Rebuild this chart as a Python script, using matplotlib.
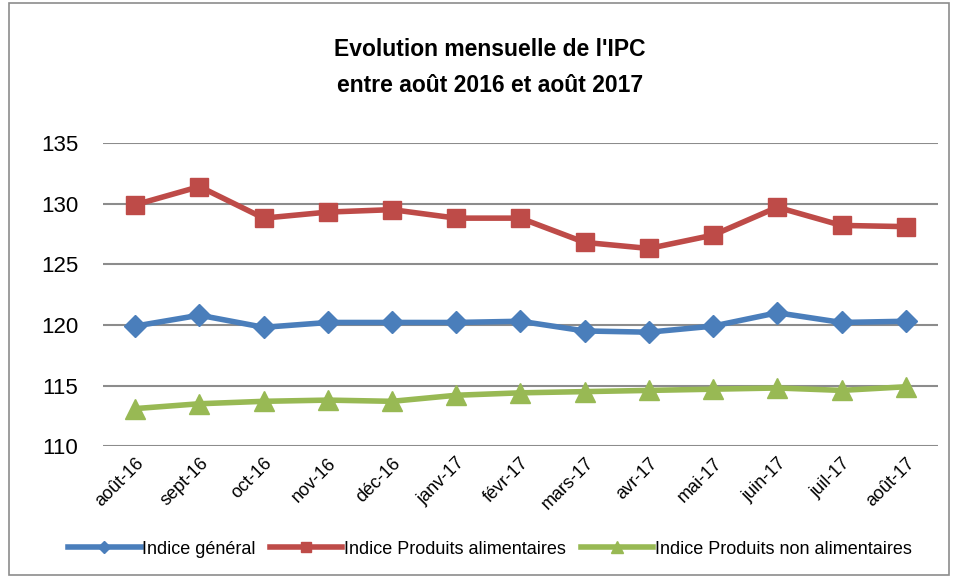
import matplotlib.pyplot as plt
from matplotlib.patches import Rectangle

# Months shown on the category axis
months = ['août-16', 'sept-16', 'oct-16', 'nov-16', 'déc-16', 'janv-17', 'févr-17',
          'mars-17', 'avr-17', 'mai-17', 'juin-17', 'juil-17', 'août-17']

# Index values
indice_general = [119.9, 120.8, 119.8, 120.2, 120.2, 120.2, 120.3,
                  119.5, 119.4, 119.9, 121.0, 120.2, 120.3]
produits_alim = [129.9, 131.4, 128.8, 129.3, 129.5, 128.8, 128.8,
                 126.8, 126.3, 127.4, 129.7, 128.2, 128.1]
produits_non_alim = [113.1, 113.5, 113.7, 113.8, 113.7, 114.2, 114.4,
                     114.5, 114.6, 114.7, 114.8, 114.6, 114.9]

y_ticks = [110, 115, 120, 125, 130, 135]


def main():
    plt.rcParams['font.family'] = ['Liberation Sans', 'DejaVu Sans']
    fig = plt.figure(figsize=(9.55, 5.81), dpi=100)
    ax = fig.add_axes([0.108, 0.232, 0.874, 0.522])

    x = range(len(months))
    ax.plot(x, indice_general, color='#4A7EBB', lw=4, marker='D', ms=11,
            label='Indice général')
    ax.plot(x, produits_alim, color='#BE4B48', lw=4, marker='s', ms=13,
            label='Indice Produits alimentaires')
    ax.plot(x, produits_non_alim, color='#98B954', lw=4, marker='^', ms=14,
            label='Indice Produits non alimentaires')

    ax.set_xlim(-0.5, len(months) - 0.5)
    ax.set_ylim(110, 135)
    ax.set_yticks(y_ticks)
    ax.set_xticks(list(x))
    ax.set_xticklabels(months, rotation=45, ha='right', rotation_mode='anchor',
                       fontsize=13)
    ax.tick_params(axis='y', labelsize=16, length=0, pad=18)
    ax.tick_params(axis='x', length=0, pad=6)
    ax.grid(axis='y', color='#8c8c8c', lw=1.5)
    ax.set_axisbelow(True)
    for s in ax.spines.values():
        s.set_visible(False)

    fig.text(0.513, 0.884, "Evolution mensuelle de l'IPC\nentre août 2016 et août 2017",
             ha='center', va='center', fontsize=16.5, fontweight='bold',
             linespacing=1.75)

    fig.legend(loc='center', bbox_to_anchor=(0.513, 0.055), ncol=3, frameon=False,
               fontsize=13, handlelength=4, handletextpad=0.1, columnspacing=0.8,
               markerscale=0.6)

    fig.patches.append(Rectangle((0.009, 0.01), 0.985, 0.985, transform=fig.transFigure,
                                 fill=False, edgecolor='#8c8c8c', lw=1.2))

    fig.savefig('out.png', dpi=100)


if __name__ == '__main__':
    main()
